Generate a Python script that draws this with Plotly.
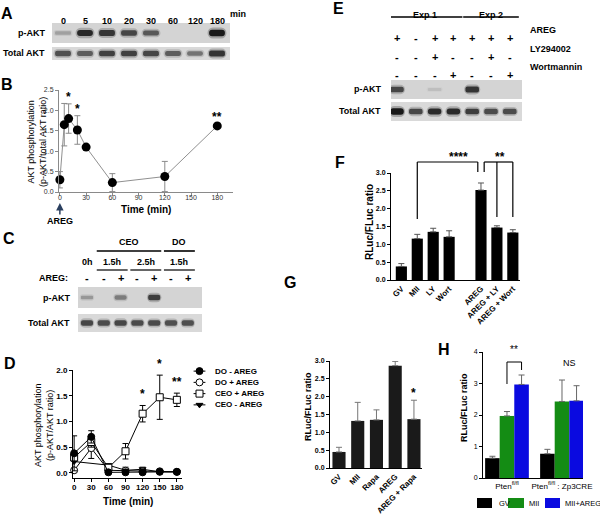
import plotly.graph_objects as go

W, HGT = 600, 516
FONT = "Liberation Sans, Arial, Helvetica, sans-serif"


def fx(p):
    return p / W


def fy(p):
    return 1 - p / HGT


# ====================== DATA ======================
# A: western blot, AREG time course (band intensities 0..1)
a_lanes = ["0", "5", "10", "20", "30", "60", "120", "180"]
a_pakt = [0.25, 0.92, 0.85, 0.75, 0.65, 0.0, 0.0, 1.0]
a_total = [0.70, 0.62, 0.78, 0.78, 0.75, 0.62, 0.50, 0.85]

# B: AKT phosphorylation time course
b_time = [0, 5, 10, 20, 30, 60, 120, 180]
b_mean = [0.30, 1.65, 1.80, 1.52, 1.10, 0.23, 0.38, 1.62]
b_sem = [0.20, 0.52, 0.36, 0.35, 0.03, 0.22, 0.37, 0.05]
b_sig = ["", "", "*", "*", "", "", "", "**"]
b_xticks = [0, 30, 60, 90, 120, 150, 180]
b_yticks = [0.0, 0.5, 1.0, 1.5, 2.0, 2.5]

# C: western blot CEO / DO
c_time = ["0h", "1.5h", "1.5h", "2.5h", "2.5h", "1.5h", "1.5h"]
c_culture = ["", "CEO", "CEO", "CEO", "CEO", "DO", "DO"]
c_areg = ["-", "-", "+", "-", "+", "-", "+"]
c_pakt = [0.30, 0.0, 0.45, 0.0, 0.80, 0.0, 0.0]
c_total = [0.75, 0.72, 0.75, 0.72, 0.72, 0.70, 0.70]

# D: time course of 4 conditions
d_time = [0, 30, 60, 90, 120, 150, 180]
d_names = ["DO - AREG", "DO + AREG", "CEO + AREG", "CEO - AREG"]
d_do_minus = [0.38, 0.70, 0.01, 0.01, 0.01, 0.02, 0.02]
d_do_minus_sem = [0.34, 0.12, 0.0, 0.0, 0.0, 0.0, 0.0]
d_do_plus = [0.05, 0.48, 0.05, 0.04, 0.03, 0.03, 0.02]
d_do_plus_sem = [0.0, 0.20, 0.0, 0.0, 0.0, 0.0, 0.0]
d_ceo_plus = [0.30, 0.60, 0.10, 0.42, 1.15, 1.47, 1.42]
d_ceo_plus_sem = [0.0, 0.10, 0.0, 0.15, 0.16, 0.43, 0.13]
d_ceo_minus = [0.22, None, 0.15, 0.05, 0.07, 0.02, 0.02]
d_ceo_minus_sem = [0.0, 0.0, 0.0, 0.06, 0.04, 0.0, 0.0]
d_sig = ["", "", "", "", "*", "*", "**"]
d_xticks = [0, 30, 60, 90, 120, 150, 180]
d_yticks = [0.0, 0.5, 1.0, 1.5, 2.0]

# E: western blot with inhibitors
e_exp = ["Exp 1", "Exp 1", "Exp 1", "Exp 1", "Exp 2", "Exp 2", "Exp 2"]
e_treat_names = ["AREG", "LY294002", "Wortmannin"]
e_areg = ["+", "-", "+", "+", "+", "+", "+"]
e_ly = ["-", "-", "+", "-", "-", "+", "-"]
e_wort = ["-", "-", "-", "+", "-", "-", "+"]
e_pakt = [0.75, 0.0, 0.08, 0.0, 0.85, 0.0, 0.0]
e_total = [1.0, 0.75, 0.90, 0.90, 0.80, 0.72, 0.72]

# F: RLuc/FLuc ratio
f_labels = ["GV", "MII", "LY", "Wort", "AREG", "AREG + LY", "AREG + Wort"]
f_group = [0, 0, 0, 0, 1, 1, 1]
f_mean = [0.38, 1.16, 1.35, 1.21, 2.52, 1.47, 1.33]
f_sem = [0.08, 0.12, 0.10, 0.17, 0.20, 0.05, 0.08]
f_yticks = [0.0, 0.5, 1.0, 1.5, 2.0, 2.5, 3.0]

# G: RLuc/FLuc ratio with rapamycin
g_labels = ["GV", "MII", "Rapa", "AREG", "AREG + Rapa"]
g_mean = [0.45, 1.32, 1.35, 2.87, 1.37]
g_sem = [0.13, 0.52, 0.28, 0.12, 0.53]
g_sig = ["", "", "", "", "*"]
g_yticks = [0.0, 0.5, 1.0, 1.5, 2.0, 2.5, 3.0]

# H: Pten genotypes
h_groups = ["Pten<sup>fl/fl</sup>", "Pten<sup>fl/fl</sup> : Zp3CRE"]
h_series = ["GV", "MII", "MII+AREG"]
h_colors = ["#000000", "#148c14", "#0a0ae0"]
h_gv = [0.63, 0.77]
h_gv_sem = [0.06, 0.14]
h_mii = [1.97, 2.43]
h_mii_sem = [0.14, 0.68]
h_mii_areg = [2.97, 2.45]
h_mii_areg_sem = [0.30, 0.48]
h_sig = ["**", "NS"]
h_yticks = [0, 1, 2, 3, 4]

# ====================== FIGURE ======================
fig = go.Figure()
layout = {}
shapes = []
annotations = []


def refs(k):
    return ("x" if k == 1 else f"x{k}"), ("y" if k == 1 else f"y{k}")


def keys(k):
    return ("xaxis" if k == 1 else f"xaxis{k}"), ("yaxis" if k == 1 else f"yaxis{k}")


def text(t, x, y, size=9, bold=True, xref="paper", yref="paper", xanchor="center",
         yanchor="middle", color="#000000", angle=0):
    if xref == "paper":
        x = fx(x)
    if yref == "paper":
        y = fy(y)
    annotations.append(dict(text=t, x=x, y=y, xref=xref, yref=yref, xanchor=xanchor,
                            yanchor=yanchor, showarrow=False, textangle=angle,
                            font=dict(family=FONT, size=size, color=color,
                                      weight="bold" if bold else "normal")))


def seg(x0, x1, y0, y1, xref="paper", yref="paper", color="black", width=1.2):
    if xref == "paper":
        x0, x1 = fx(x0), fx(x1)
    if yref == "paper":
        y0, y1 = fy(y0), fy(y1)
    shapes.append(dict(type="line", x0=x0, x1=x1, y0=y0, y1=y1, xref=xref, yref=yref,
                       line=dict(color=color, width=width)))


def runs(vals):
    out, start = [], 0
    for i in range(1, len(vals) + 1):
        if i == len(vals) or vals[i] != vals[start]:
            out.append((vals[start], start, i - 1))
            start = i
    return out


def axis_style(color="black", size=8, bold=True, tcolor="black"):
    return dict(showline=True, linecolor=color, linewidth=1, ticks="outside", ticklen=3,
                tickwidth=1, tickcolor=color, showgrid=False, zeroline=False, fixedrange=True,
                tickfont=dict(family=FONT, size=size, color=tcolor,
                              weight="bold" if bold else "normal"))


def blot(k, xl, xr, lane0, dlane, pbox, tbox, pakt, total, label_x):
    n = len(pakt)
    xref, yref = refs(k)
    xk, yk = keys(k)
    r0 = -(lane0 - xl) / dlane
    r1 = (n - 1) + (xr - (lane0 + (n - 1) * dlane)) / dlane
    pc = (pbox[0] + pbox[1]) / 2
    tc = (tbox[0] + tbox[1]) / 2
    unit = tc - pc
    ytop = 1 + (pc - pbox[0]) / unit
    ybot = -(tbox[1] - tc) / unit
    layout[xk] = dict(domain=[fx(xl), fx(xr)], range=[r0, r1], visible=False, anchor=yref,
                      fixedrange=True)
    layout[yk] = dict(domain=[fy(tbox[1]), fy(pbox[0])], range=[ybot, ytop], visible=False,
                      anchor=xref, fixedrange=True)
    for box, col in ((pbox, "#d4d4d4"), (tbox, "#d9d9d9")):
        shapes.append(dict(type="rect", xref=f"{xref} domain", x0=0, x1=1, yref="paper",
                           y0=fy(box[1]), y1=fy(box[0]), fillcolor=col, line=dict(width=0),
                           layer="below"))
    lanes = list(range(n))
    for row, vals in ((1, pakt), (0, total)):
        hs = [((2.5 + 4.0 * v) / unit if v > 0 else 0) for v in vals]
        # blurred halo
        fig.add_trace(go.Bar(x=lanes, y=[h * 1.7 for h in hs], base=[row - h * 0.85 for h in hs],
                             width=0.86, xaxis=xref, yaxis=yref, hoverinfo="skip",
                             marker=dict(color=[f"rgba(70,70,70,{0.35 * v:.2f})" for v in vals],
                                         line=dict(width=0), cornerradius="50%")))
        fig.add_trace(go.Bar(x=lanes, y=hs, base=[row - h / 2 for h in hs], width=0.72,
                             xaxis=xref, yaxis=yref, hoverinfo="skip",
                             marker=dict(color=[f"rgb({int(205 - 180 * v)},{int(205 - 180 * v)},{int(205 - 180 * v)})" for v in vals],
                                         line=dict(width=0), cornerradius="50%")))
    text("p-AKT", label_x, pc, size=9, xanchor="right")
    text("Total AKT", label_x, tc, size=9, xanchor="right")
    return xref


# ---------- Panel letters ----------
for letter, (lx, ly) in zip("ABCDEFGH", [(7, 13), (7, 84), (9, 239), (10, 363), (338, 8),
                                          (340, 162), (290, 282), (444, 349)]):
    text(letter, lx, ly, size=16)

# ---------- A ----------
xa_ref = blot(1, 52, 230, 63, 22, (23, 43), (47, 60), a_pakt, a_total, 47)
for i, lab in enumerate(a_lanes):
    annotations.append(dict(text=lab, x=i, y=fy(14), xref=xa_ref, yref="paper", showarrow=False,
                            font=dict(family=FONT, size=9, weight="bold")))
text("min", 238, 14, size=9)

# ---------- B ----------
xk, yk = keys(2)
xr2, yr2 = refs(2)
layout[xk] = dict(domain=[fx(59), fx(233)], range=[-1, 198], anchor=yr2, tickvals=b_xticks,
                  ticklabelstandoff=-4, **axis_style("#8a8a8a", 7, False, "#333"))
layout[yk] = dict(domain=[fy(192), fy(90)], range=[0, 2.5], anchor=xr2, tickvals=b_yticks,
                  tickformat=".1f", **axis_style("#8a8a8a", 7, False, "#333"))
fig.add_trace(go.Scatter(x=b_time, y=b_mean, mode="lines+markers", xaxis=xr2, yaxis=yr2,
                         line=dict(color="#909090", width=1), cliponaxis=False,
                         marker=dict(color="black", size=9),
                         error_y=dict(type="data", array=b_sem, color="#8a8a8a", thickness=1, width=3)))
for t, m, s, sig in zip(b_time, b_mean, b_sem, b_sig):
    if sig:
        annotations.append(dict(text=sig, x=t, y=m + s, xref=xr2, yref=yr2, yanchor="bottom",
                                showarrow=False, yshift=-2,
                                font=dict(family=FONT, size=12, weight="bold")))
text("Time (min)", 146, 209, size=10)
text("AKT phosphorylation<br>(p-AKT/total AKT ratio)", 37, 142, size=9, bold=False, angle=-90)
annotations.append(dict(text="AREG", x=b_time[0], y=fy(203), xref=xr2, yref="paper",
                        showarrow=True, arrowhead=2, arrowsize=1, arrowwidth=1.5, ax=0, ay=18,
                        font=dict(family=FONT, size=9, weight="bold")))

# ---------- C ----------
xc_ref = blot(3, 78, 202, 87, 16.8, (287, 308), (314, 332), c_pakt, c_total, 72)
for lab, s, e in runs(c_culture):
    if lab:
        annotations.append(dict(text=lab, x=(s + e) / 2, y=fy(242), xref=xc_ref, yref="paper",
                                showarrow=False, font=dict(family=FONT, size=9, weight="bold")))
        seg(s - 0.42, e + 0.42, 251, 251, xref=xc_ref, width=1.6)
for lab, s, e in runs(c_time):
    annotations.append(dict(text=lab, x=(s + e) / 2, y=fy(262), xref=xc_ref, yref="paper",
                            showarrow=False, font=dict(family=FONT, size=9, weight="bold")))
    if e > s:
        seg(s - 0.42, e + 0.42, 270, 270, xref=xc_ref, width=1.2)
for i, sgn in enumerate(c_areg):
    annotations.append(dict(text=sgn, x=i, y=fy(278), xref=xc_ref, yref="paper",
                            showarrow=False, font=dict(family=FONT, size=11, weight="bold")))
text("AREG:", 70, 278, size=9, xanchor="right")

# ---------- D ----------
xk, yk = keys(4)
xr4, yr4 = refs(4)
layout[xk] = dict(domain=[fx(73), fx(182)], range=[-2, 189], anchor=yr4, tickvals=d_xticks,
                  ticklabelstandoff=-2, **axis_style("black", 8, True))
layout[yk] = dict(domain=[fy(478), fy(370)], range=[-0.1, 2.0], anchor=xr4, tickvals=d_yticks,
                  tickformat=".1f", **axis_style("black", 8, True))
d_styles = {
    "DO - AREG": dict(symbol="circle", color="black", size=7, line=dict(color="black", width=1)),
    "DO + AREG": dict(symbol="circle", color="white", size=7, line=dict(color="black", width=1)),
    "CEO + AREG": dict(symbol="square", color="white", size=7, line=dict(color="black", width=1)),
    "CEO - AREG": dict(symbol="triangle-down", color="black", size=6, line=dict(color="black", width=1)),
}
d_data = {
    "DO - AREG": (d_do_minus, d_do_minus_sem),
    "DO + AREG": (d_do_plus, d_do_plus_sem),
    "CEO + AREG": (d_ceo_plus, d_ceo_plus_sem),
    "CEO - AREG": (d_ceo_minus, d_ceo_minus_sem),
}
for name in ["CEO - AREG", "DO + AREG", "CEO + AREG", "DO - AREG"]:
    vals, sem = d_data[name]
    fig.add_trace(go.Scatter(x=d_time, y=vals, mode="lines+markers", xaxis=xr4, yaxis=yr4,
                             connectgaps=True, cliponaxis=False,
                             line=dict(color="black", width=1), marker=d_styles[name],
                             error_y=dict(type="data", array=sem, color="black", thickness=1, width=3)))
for t, m, s, sig in zip(d_time, d_ceo_plus, d_ceo_plus_sem, d_sig):
    if sig:
        annotations.append(dict(text=sig, x=t, y=m + s, xref=xr4, yref=yr4, yanchor="bottom",
                                showarrow=False, yshift=2,
                                font=dict(family=FONT, size=12, weight="bold")))
text("Time (min)", 128, 501, size=10)
text("AKT phosphorylation<br>(p-AKT/AKT ratio)", 44, 426, size=9, bold=False, angle=-90)

# D legend (drawn on a small hidden axis)
xk, yk = keys(5)
xr5, yr5 = refs(5)
layout[xk] = dict(domain=[fx(193), fx(206)], range=[-0.05, 1.05], visible=False, anchor=yr5,
                  fixedrange=True)
layout[yk] = dict(domain=[fy(410.5), fy(365.5)], range=[3.5, -0.5], visible=False, anchor=xr5,
                  fixedrange=True)
for i, name in enumerate(d_names):
    fig.add_trace(go.Scatter(x=[0, 1], y=[i, i], mode="lines", xaxis=xr5, yaxis=yr5,
                             line=dict(color="black", width=1), hoverinfo="skip"))
    fig.add_trace(go.Scatter(x=[0.5], y=[i], mode="markers", xaxis=xr5, yaxis=yr5,
                             marker=d_styles[name], hoverinfo="skip"))
    annotations.append(dict(text=name, x=fx(213), y=i, xref="paper", yref=yr5, xanchor="left",
                            showarrow=False, font=dict(family=FONT, size=8, weight="bold")))

# ---------- E ----------
xe_ref = blot(6, 391, 522, 397, 18.8, (80, 99), (102, 121), e_pakt, e_total, 383)
for lab, s, e in runs(e_exp):
    annotations.append(dict(text=lab, x=(s + e) / 2, y=fy(8), xref=xe_ref, yref="paper",
                            showarrow=False, font=dict(family=FONT, size=9, weight="bold")))
    seg(s - 0.48, e + 0.48, 17, 17, xref=xe_ref, width=1.6)
for row_y, tname, signs in zip([30, 49, 67], e_treat_names, [e_areg, e_ly, e_wort]):
    for i, sgn in enumerate(signs):
        annotations.append(dict(text=sgn, x=i, y=fy(row_y), xref=xe_ref, yref="paper",
                                showarrow=False, font=dict(family=FONT, size=11, weight="bold")))
    text(tname, 528, row_y, size=9, xanchor="left")

# ---------- F ----------
xk, yk = keys(7)
xr7, yr7 = refs(7)
f_x = [i + g for i, g in enumerate(f_group)]
layout[xk] = dict(domain=[fx(391), fx(520)], range=[-0.65, 7.45], anchor=yr7, tickvals=f_x,
                  ticktext=f_labels, tickangle=-45, **axis_style("black", 8, True))
layout[xk]["ticks"] = ""
layout[yk] = dict(domain=[fy(280), fy(173)], range=[0, 3.0], anchor=xr7, tickvals=f_yticks,
                  tickformat=".1f", **axis_style("black", 7, True))
fig.add_trace(go.Bar(x=f_x, y=f_mean, width=0.7, xaxis=xr7, yaxis=yr7,
                     marker=dict(color="black", line=dict(width=0)),
                     error_y=dict(type="data", symmetric=False, array=f_sem,
                                  arrayminus=[0] * len(f_sem), color="#555", thickness=1, width=3)))
# significance brackets
ia, im, ily, iw = f_labels.index("AREG"), f_labels.index("MII"), f_labels.index("AREG + LY"), f_labels.index("AREG + Wort")
seg(f_x[im], f_x[ia] - 0.2, 162, 162, xref=xr7, width=1.2)
seg(f_x[im], f_x[im], 162, 219, xref=xr7, width=1.2)
seg(f_x[ia] - 0.2, f_x[ia] - 0.2, 162, 172, xref=xr7, width=1.2)
seg(f_x[ia] + 0.2, f_x[iw], 162, 162, xref=xr7, width=1.2)
seg(f_x[ia] + 0.2, f_x[ia] + 0.2, 162, 172, xref=xr7, width=1.2)
seg(f_x[ily], f_x[ily], 162, 217, xref=xr7, width=1.2)
seg(f_x[iw], f_x[iw], 162, 217, xref=xr7, width=1.2)
annotations.append(dict(text="****", x=(f_x[im] + f_x[ia]) / 2 + 0.6, y=fy(162), xref=xr7,
                        yref="paper", yanchor="bottom", showarrow=False, yshift=-4,
                        font=dict(family=FONT, size=12, weight="bold")))
annotations.append(dict(text="**", x=(f_x[ia] + f_x[iw]) / 2 + 0.2, y=fy(162), xref=xr7,
                        yref="paper", yanchor="bottom", showarrow=False, yshift=-4,
                        font=dict(family=FONT, size=12, weight="bold")))
text("RLuc/FLuc ratio", 369, 222, size=10, angle=-90)

# ---------- G ----------
xk, yk = keys(8)
xr8, yr8 = refs(8)
g_x = list(range(len(g_labels)))
layout[xk] = dict(domain=[fx(330), fx(422)], range=[-0.48, 4.43], anchor=yr8, tickvals=g_x,
                  ticktext=g_labels, tickangle=-45, **axis_style("black", 8, True))
layout[xk]["ticks"] = ""
layout[yk] = dict(domain=[fy(468), fy(361)], range=[0, 3.0], anchor=xr8, tickvals=g_yticks,
                  tickformat=".1f", **axis_style("black", 7, True))
fig.add_trace(go.Bar(x=g_x, y=g_mean, width=0.7, xaxis=xr8, yaxis=yr8,
                     marker=dict(color="#1a1a1a", line=dict(width=0)),
                     error_y=dict(type="data", symmetric=False, array=g_sem,
                                  arrayminus=[0] * len(g_sem), color="#777", thickness=1, width=3)))
for xv, m, s, sig in zip(g_x, g_mean, g_sem, g_sig):
    if sig:
        annotations.append(dict(text=sig, x=xv, y=m + s, xref=xr8, yref=yr8, yanchor="bottom",
                                showarrow=False, yshift=-2,
                                font=dict(family=FONT, size=12, weight="bold")))
text("RLuc/FLuc ratio", 308, 407, size=9, angle=-90)

# ---------- H ----------
xk, yk = keys(9)
xr9, yr9 = refs(9)
h_x = list(range(len(h_groups)))
bw = 0.265
layout[xk] = dict(domain=[fx(483), fx(583)], range=[-0.436, 1.382], anchor=yr9, tickvals=h_x,
                  ticktext=h_groups, **axis_style("black", 8, False))
layout[xk]["ticks"] = ""
layout[yk] = dict(domain=[fy(478), fy(352)], range=[0, 4], anchor=xr9, tickvals=h_yticks,
                  **axis_style("black", 7, False))
h_vals = [(h_gv, h_gv_sem), (h_mii, h_mii_sem), (h_mii_areg, h_mii_areg_sem)]
for i, (name, col, (vals, sem)) in enumerate(zip(h_series, h_colors, h_vals)):
    fig.add_trace(go.Bar(x=h_x, y=vals, width=bw, offset=(i - 1.5) * bw, xaxis=xr9, yaxis=yr9,
                         name=name, marker=dict(color=col, line=dict(width=0)),
                         error_y=dict(type="data", symmetric=False, array=sem,
                                      arrayminus=[0] * len(sem), color="#666", thickness=1, width=3)))
# bracket over group 1 (MII vs MII+AREG)
seg(h_x[0], h_x[0] + bw, 362, 362, xref=xr9, width=1)
seg(h_x[0], h_x[0], 362, 384, xref=xr9, width=1)
seg(h_x[0] + bw, h_x[0] + bw, 362, 370, xref=xr9, width=1)
for gx, sig, sy, ssz in zip(h_x, h_sig, [357, 370], [10, 9]):
    annotations.append(dict(text=sig, x=gx + bw / 2, y=fy(sy), xref=xr9, yref="paper",
                            showarrow=False,
                            font=dict(family=FONT, size=ssz, color="#000000")))
text("RLuc/FLuc ratio", 464, 408, size=9, angle=-90)
# H legend
for (sx0, sx1, tx), name, col in zip([(477, 492, 497), (508, 524, 527), (545, 560, 563)],
                                      h_series, h_colors):
    shapes.append(dict(type="rect", xref="paper", yref="paper", x0=fx(sx0), x1=fx(sx1),
                       y0=fy(508), y1=fy(498), fillcolor=col, line=dict(width=0)))
    text(name, tx, 503, size=7.5, bold=False, xanchor="left")

layout.update(dict(width=W, height=HGT,
                   margin=dict(l=0, r=0, t=0, b=0, pad=0, autoexpand=False),
                   showlegend=False,
                   paper_bgcolor="white", plot_bgcolor="rgba(0,0,0,0)", barmode="overlay",
                   font=dict(family=FONT, color="black"), shapes=shapes, annotations=annotations))
fig.update_layout(layout)
fig.write_html("out.html", config={"displayModeBar": False},
               post_script="document.body.style.margin='0';document.body.style.overflow='hidden';")
